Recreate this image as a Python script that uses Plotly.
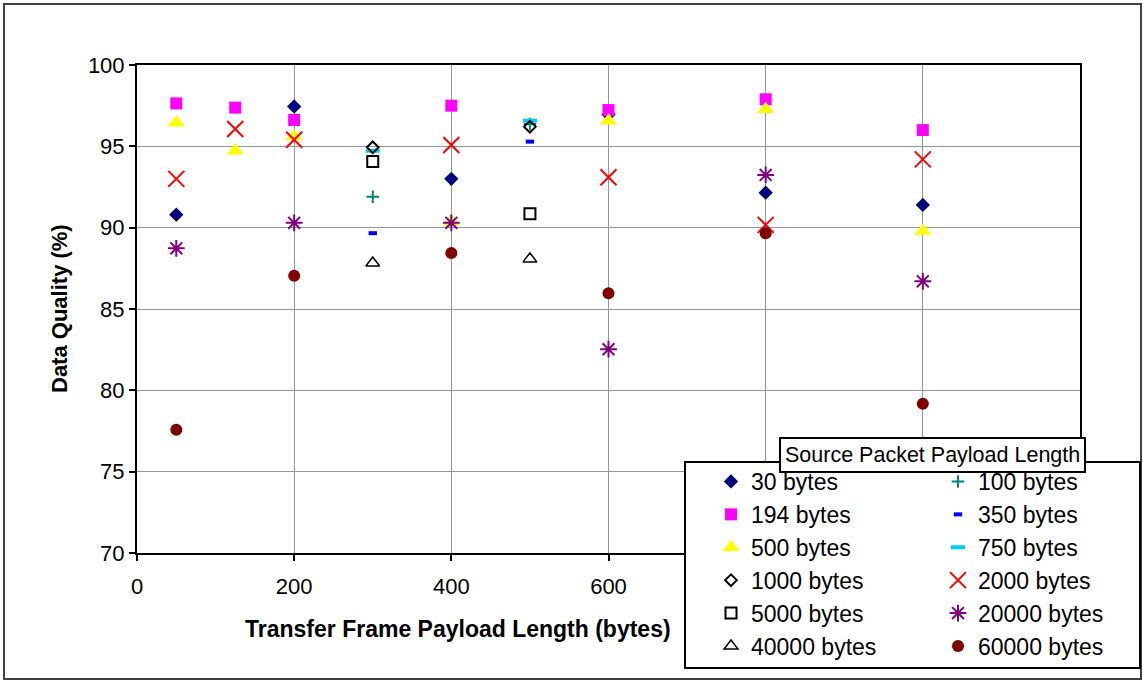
import plotly.graph_objects as go

# ---- data ----
x_main = [50, 125, 200, 400, 600, 800, 1000]
x_six = [50, 200, 400, 600, 800, 1000]
x_pair = [300, 500]

y_30 = [90.8, 97.45, 93.0, 96.95, 92.15, 91.4]
y_194 = [97.64, 97.38, 96.62, 97.5, 97.23, 97.89, 96.0]
y_500 = [96.45, 94.73, 95.6, 90.37, 96.58, 97.28, 89.8]
y_2000 = [93.0, 96.07, 95.4, 95.08, 93.1, 90.17, 94.2]
y_20000 = [88.73, 90.3, 90.3, 82.53, 93.24, 86.7]
y_60000 = [77.57, 87.05, 88.44, 85.97, 89.65, 79.18]
y_100 = [91.9, 96.37]
y_350 = [89.66, 95.29]
y_750 = [94.73, 96.58]
y_1000 = [94.94, 96.21]
y_5000 = [94.06, 90.86]
y_40000 = [87.83, 88.08]

x_ticks = [0, 200, 400, 600, 800, 1000, 1200]
x_tick_labels = ["0", "200", "400", "600", "", "", ""]  # right-hand labels lie under the legend
y_ticks = [70, 75, 80, 85, 90, 95, 100]

FONT = "Liberation Sans, Arial, sans-serif"

series = [
    # name, x, y, symbol, size, color, line width, legend
    ("30 bytes", x_six, y_30, "diamond", 11, "#000080", 0, "legend"),
    ("100 bytes", x_pair, y_100, "cross-thin-open", 9, "#008080", 2, "legend2"),
    ("194 bytes", x_main, y_194, "square", 12, "#FF00FF", 0, "legend"),
    ("350 bytes", x_pair, y_350, "line-ew-open", 6, "#0000FF", 4, "legend2"),
    ("500 bytes", x_main, y_500, "triangle-up", 15, "#FFFF00", 0, "legend"),
    ("750 bytes", x_pair, y_750, "line-ew-open", 10, "#00CCFF", 4, "legend2"),
    ("1000 bytes", x_pair, y_1000, "diamond-open", 9, "#000000", 2, "legend"),
    ("2000 bytes", x_main, y_2000, "x-thin-open", 16, "#FF0000", 2, "legend2"),
    ("5000 bytes", x_pair, y_5000, "square-open", 11, "#000000", 2, "legend"),
    ("20000 bytes", x_six, y_20000, "asterisk-open", 14, "#800080", 2, "legend2"),
    ("40000 bytes", x_pair, y_40000, "triangle-up-open", 12, "#000000", 1.5, "legend"),
    ("60000 bytes", x_six, y_60000, "circle", 12, "#800000", 0, "legend2"),
]

fig = go.Figure()
for name, xs, ys, sym, size, color, lw, leg in series:
    open_sym = sym.endswith("open")
    fig.add_trace(go.Scatter(
        x=xs, y=ys, mode="markers", name=name, legend=leg,
        marker=dict(symbol=sym, size=size, color=color,
                    line=dict(color=color, width=lw if open_sym else 0)),
    ))

# plot-area geometry helpers (pixels -> paper)
L, R, T, B = 137, 1080, 65, 553
def px(x):
    return (x - L) / (R - L)
def py(y):
    return (B - y) / (B - T)

shapes = [
    # outer chart border
    dict(type="rect", xref="paper", yref="paper", x0=px(4), x1=px(1141), y0=py(679), y1=py(4),
         line=dict(color="#404040", width=2), layer="below"),
    # legend box
    dict(type="rect", xref="paper", yref="paper", x0=px(685), x1=px(1140), y0=py(668), y1=py(462),
         line=dict(color="black", width=2), fillcolor="white", layer="above"),
]

annotations = [
    dict(text="<b>Transfer Frame Payload Length (bytes)</b>", xref="paper", yref="paper",
         x=px(457.5), y=py(629), xanchor="center", yanchor="middle", showarrow=False,
         font=dict(family=FONT, size=23, color="black")),
    dict(text="<b>Data Quality (%)</b>", xref="paper", yref="paper",
         x=px(59), y=0.5, xanchor="center", yanchor="middle", textangle=-90, showarrow=False,
         font=dict(family=FONT, size=22, color="black")),
    dict(text="Source Packet Payload Length", xref="paper", yref="paper",
         x=px(932.5), y=py(455.5), xanchor="center", yanchor="middle", showarrow=False,
         font=dict(family=FONT, size=21.5, color="black"),
         bgcolor="white", bordercolor="black", borderwidth=2, borderpad=4),
]

legend_common = dict(yanchor="top", xanchor="left", bgcolor="rgba(0,0,0,0)", borderwidth=0,
                     font=dict(family=FONT, size=23, color="black"), traceorder="normal",
                     itemsizing="trace")

fig.update_layout(
    width=1143, height=681,
    margin=dict(l=L, r=1143 - R, t=T, b=681 - B),
    paper_bgcolor="white", plot_bgcolor="white",
    font=dict(family=FONT, color="black"),
    showlegend=True,
    legend=dict(x=px(711), y=py(460), **legend_common),
    legend2=dict(x=px(938), y=py(460), **legend_common),
    shapes=shapes,
    annotations=annotations,
    xaxis=dict(range=[0, 1200], tickvals=x_ticks, ticktext=x_tick_labels,
               showgrid=True, gridcolor="#969696", gridwidth=1,
               showline=True, linecolor="black", linewidth=2, mirror=True, zeroline=False,
               ticks="outside", ticklen=6, tickwidth=2, tickcolor="black",
               tickfont=dict(family=FONT, size=22, color="black"), ticklabelstandoff=7),
    yaxis=dict(range=[70, 100], tickvals=y_ticks, showgrid=True, gridcolor="#969696", gridwidth=1,
               showline=True, linecolor="black", linewidth=2, mirror=True, zeroline=False,
               ticks="outside", ticklen=6, tickwidth=2, tickcolor="black",
               tickfont=dict(family=FONT, size=22, color="black"), ticklabelstandoff=0),
)

fig.write_html("out.html", config={"displayModeBar": False},
               post_script="document.body.style.margin='0px';")
